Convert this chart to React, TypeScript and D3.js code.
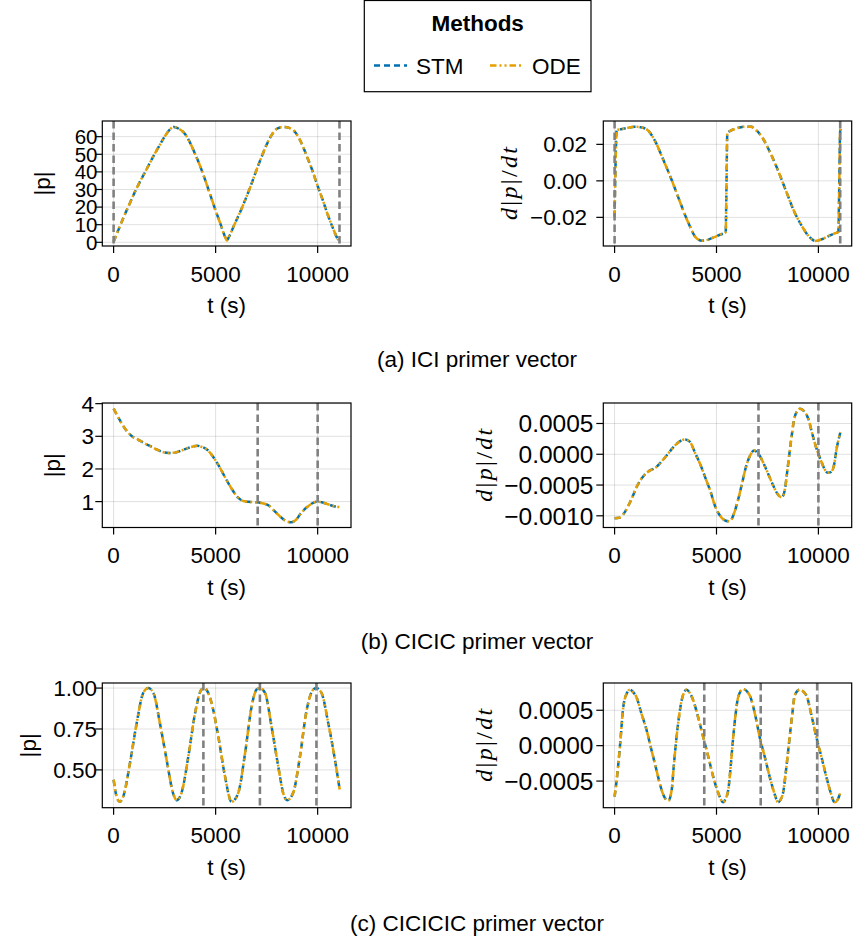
import React from 'react';
import * as d3 from 'd3';

const W = 856;
const H = 942;

const METHODS = ['STM', 'ODE'];
const METHOD_COLORS = ['#0072B2', '#E69F00'];
const METHOD_DASH = ['6 4', '6.5 3 2 3 2 3'];
const X_TICKS = [0, 5000, 10000];
const T_END = 11080;
const CAPTIONS = ['(a) ICI primer vector', '(b) CICIC primer vector', '(c) CICICIC primer vector'];

// ---- (a) ICI ----
const T_ICI_P = [0, 250, 500, 750, 1000, 1250, 1500, 1750, 2000, 2250, 2500, 2750, 2950, 3200, 3500, 3750, 4000, 4250, 4500, 4750, 5000, 5250, 5450, 5550, 5650, 5900, 6250, 6500, 6750, 7000, 7250, 7500, 7750, 8000, 8300, 8600, 8900, 9200, 9500, 9750, 10000, 10250, 10500, 10750, 11000, 11080];
const ICI_P = [0.3, 7.5, 14.5, 21, 27.5, 33.5, 39, 44.5, 50, 55, 60, 64, 65.5, 64.5, 61.5, 56.5, 50, 43, 35, 26.5, 18, 10, 3.5, 1, 3, 9.5, 18.5, 25.5, 33, 41, 48.5, 55.5, 61, 64.5, 65.5, 65, 62.5, 56.5, 48, 40.5, 32, 24, 15.5, 8, 1.5, 0.3];
const T_ICI_D = [0, 40, 100, 300, 600, 1000, 1300, 1600, 2000, 2400, 2800, 3200, 3600, 4000, 4300, 4600, 4900, 5200, 5450, 5490, 5530, 5700, 6000, 6400, 6700, 7000, 7300, 7600, 8000, 8400, 8800, 9200, 9500, 9850, 10150, 10450, 10750, 10980, 11020, 11060, 11080];
const ICI_D = [-0.0197, 0.005, 0.0278, 0.0283, 0.0289, 0.0297, 0.0293, 0.028, 0.0215, 0.0113, 0.0005, -0.0113, -0.0225, -0.0312, -0.0328, -0.0322, -0.0308, -0.0294, -0.0282, -0.002, 0.0262, 0.0275, 0.0288, 0.0297, 0.0296, 0.0272, 0.0228, 0.0163, 0.0062, -0.0052, -0.0165, -0.0250, -0.0300, -0.0329, -0.0321, -0.0305, -0.029, -0.0279, -0.005, 0.025, 0.0285];
const ICI_IMPULSES = [0, 11070];

// ---- (b) CICIC ----
const T_CICIC_P = [0, 300, 600, 900, 1200, 1500, 1800, 2100, 2400, 2700, 3000, 3300, 3600, 3900, 4100, 4300, 4600, 4900, 5200, 5500, 5800, 6100, 6400, 6700, 7000, 7300, 7600, 7900, 8200, 8500, 8700, 8900, 9200, 9500, 9800, 10000, 10200, 10500, 10800, 11080];
const CICIC_P = [3.85, 3.5, 3.2, 3.0, 2.9, 2.79, 2.7, 2.6, 2.52, 2.49, 2.5, 2.56, 2.63, 2.69, 2.71, 2.68, 2.58, 2.35, 2.05, 1.7, 1.38, 1.12, 1.01, 0.99, 0.98, 0.95, 0.88, 0.7, 0.52, 0.39, 0.37, 0.42, 0.66, 0.84, 0.97, 1.0, 0.98, 0.92, 0.86, 0.83];
const T_CICIC_D = [0, 250, 500, 800, 1100, 1400, 1700, 2000, 2300, 2600, 2900, 3200, 3450, 3700, 3950, 4200, 4450, 4700, 4950, 5200, 5450, 5650, 5850, 6050, 6250, 6450, 6650, 6850, 7050, 7300, 7550, 7800, 8050, 8200, 8350, 8500, 8650, 8800, 8950, 9100, 9300, 9500, 9700, 9900, 10100, 10300, 10450, 10600, 10750, 10900, 11080];
const CICIC_D = [-0.00104, -0.00103, -0.00094, -0.00075, -0.00052, -0.00036, -0.00027, -0.00022, -0.00012, 0.0, 0.00012, 0.00021, 0.00024, 0.0002, 0.00002, -0.00016, -0.00038, -0.0006, -0.00086, -0.00101, -0.00108, -0.00109, -0.00097, -0.00075, -0.00048, -0.0002, -0.00002, 0.00006, 0.00001, -0.00014, -0.00033, -0.00052, -0.00067, -0.0007, -0.00058, -0.0002, 0.0002, 0.00055, 0.0007, 0.00074, 0.0007, 0.00058, 0.00033, 0.0001, -0.00008, -0.00024, -0.0003, -0.00029, -0.0002, 0.0001, 0.00036];
const CICIC_IMPULSES = [7060, 10000];

// ---- (c) CICICIC ----
const T_CICICIC_P = [0, 150, 300, 480, 800, 1130, 1450, 1700, 1950, 2270, 2600, 2920, 3090, 3330, 3660, 3990, 4300, 4450, 4600, 4800, 5130, 5460, 5780, 6110, 6440, 6760, 7000, 7150, 7420, 7740, 8070, 8330, 8500, 8800, 9130, 9460, 9750, 9930, 10190, 10520, 10850, 11080];
const CICICIC_P = [0.44, 0.335, 0.305, 0.34, 0.54, 0.785, 0.97, 1.0, 0.97, 0.785, 0.56, 0.355, 0.315, 0.36, 0.58, 0.845, 0.99, 1.0, 0.98, 0.91, 0.705, 0.46, 0.305, 0.36, 0.6, 0.885, 0.99, 1.0, 0.97, 0.765, 0.52, 0.35, 0.315, 0.36, 0.58, 0.865, 0.985, 1.0, 0.97, 0.785, 0.56, 0.38];
const T_CICICIC_D = [0, 100, 260, 425, 600, 750, 900, 1080, 1300, 1570, 1800, 2060, 2250, 2400, 2630, 2800, 2900, 3040, 3180, 3290, 3530, 3700, 3860, 4100, 4350, 4600, 4840, 5100, 5330, 5460, 5580, 5700, 5820, 5940, 6060, 6300, 6630, 6900, 7120, 7370, 7610, 7850, 8020, 8150, 8270, 8430, 8590, 8720, 8840, 9080, 9410, 9650, 9900, 10150, 10390, 10600, 10800, 10950, 11080];
const CICICIC_D = [-0.00072, -0.00049, -0.00002, 0.00054, 0.00074, 0.00079, 0.00076, 0.00068, 0.00047, 0.00022, -0.00005, -0.00035, -0.00057, -0.0007, -0.00078, -0.00063, -0.0003, 0.00012, 0.00045, 0.00064, 0.00079, 0.00074, 0.00064, 0.0004, 0.00012, -0.00016, -0.00044, -0.00068, -0.0008, -0.00074, -0.00062, -0.00028, 0.00012, 0.00045, 0.00068, 0.0008, 0.00071, 0.00043, 0.00012, -0.00016, -0.00044, -0.00068, -0.0008, -0.00076, -0.00066, -0.0003, 0.00012, 0.00045, 0.00071, 0.00079, 0.00071, 0.00044, 0.00012, -0.00016, -0.00044, -0.00066, -0.0008, -0.00076, -0.00066];
const CICICIC_IMPULSES = [4400, 7170, 9940];

// y ticks
const Y_TICKS_ICI_P = [0, 10, 20, 30, 40, 50, 60];
const Y_TICKS_ICI_D = [-0.02, 0, 0.02];
const Y_TICKS_CICIC_P = [1, 2, 3, 4];
const Y_TICKS_CICIC_D = [-0.001, -0.0005, 0, 0.0005];
const Y_TICKS_CICICIC_P = [0.5, 0.75, 1.0];
const Y_TICKS_CICICIC_D = [-0.0005, 0, 0.0005];

const FONT = "'Liberation Sans', Arial, Helvetica, sans-serif";
const MATH_FONT = "'Liberation Serif', 'DejaVu Serif', serif";
const FS = 22.5;

const COL_X = [[102.3, 351], [603.3, 851.7]];
const ROW_Y = [[121, 246], [403, 527.5], [683, 807.7]];

type Panel = {
  row: number; col: number; t: number[]; v: number[]; yDomain: [number, number];
  yTicks: number[]; fmt: string; impulses: number[]; labelX: number; math: boolean;
  tickLabelEnd: number; tickFs: number;
};

const PANELS: Panel[] = [
  { row: 0, col: 0, t: T_ICI_P, v: ICI_P, yDomain: [-2.1, 68.9], yTicks: Y_TICKS_ICI_P, fmt: 'd', impulses: ICI_IMPULSES, labelX: 41.7, math: false, tickLabelEnd: 97.5, tickFs: 20.5 },
  { row: 0, col: 1, t: T_ICI_D, v: ICI_D, yDomain: [-0.0357, 0.0328], yTicks: Y_TICKS_ICI_D, fmt: '.2f', impulses: ICI_IMPULSES, labelX: 509, math: true, tickLabelEnd: 587, tickFs: 22.5 },
  { row: 1, col: 0, t: T_CICIC_P, v: CICIC_P, yDomain: [0.207, 4.02], yTicks: Y_TICKS_CICIC_P, fmt: 'd', impulses: CICIC_IMPULSES, labelX: 52.3, math: false, tickLabelEnd: 94, tickFs: 22.5 },
  { row: 1, col: 1, t: T_CICIC_D, v: CICIC_D, yDomain: [-0.00119, 0.000833], yTicks: Y_TICKS_CICIC_D, fmt: '.4f', impulses: CICIC_IMPULSES, labelX: 484, math: true, tickLabelEnd: 593.5, tickFs: 24.5 },
  { row: 2, col: 0, t: T_CICICIC_P, v: CICICIC_P, yDomain: [0.269, 1.031], yTicks: Y_TICKS_CICICIC_P, fmt: '.2f', impulses: CICICIC_IMPULSES, labelX: 28.3, math: false, tickLabelEnd: 97, tickFs: 22.5 },
  { row: 2, col: 1, t: T_CICICIC_D, v: CICICIC_D, yDomain: [-0.000876, 0.000885], yTicks: Y_TICKS_CICICIC_D, fmt: '.4f', impulses: CICICIC_IMPULSES, labelX: 484, math: true, tickLabelEnd: 593.5, tickFs: 24.5 },
];

const TICK = 7;

function PanelView({ p, idx }: { p: Panel; idx: number }) {
  const [x0, x1] = COL_X[p.col];
  const [y0, y1] = ROW_Y[p.row];
  const x = d3.scaleLinear().domain([-0.05 * T_END, 1.05 * T_END]).range([x0, x1]);
  const y = d3.scaleLinear().domain(p.yDomain).range([y1, y0]);
  const pts = p.t.map((t, i) => [t, p.v[i]] as [number, number]);
  const line = d3.line<[number, number]>().x(d => x(d[0])).y(d => y(d[1])).curve(d3.curveMonotoneX);
  const path = line(pts) || '';
  const f = d3.format(p.fmt);
  const clipId = `clip${idx}`;
  const cy = (y0 + y1) / 2;
  return (
    <g>
      <defs>
        <clipPath id={clipId}><rect x={x0} y={y0} width={x1 - x0} height={y1 - y0} /></clipPath>
      </defs>
      {X_TICKS.map(t => (
        <line key={'gx' + t} x1={x(t)} x2={x(t)} y1={y0} y2={y1} stroke="rgba(0,0,0,0.12)" strokeWidth={1} />
      ))}
      {p.yTicks.map(v => (
        <line key={'gy' + v} x1={x0} x2={x1} y1={y(v)} y2={y(v)} stroke="rgba(0,0,0,0.12)" strokeWidth={1} />
      ))}
      <g clipPath={`url(#${clipId})`}>
        {METHODS.map((m, i) => (
          <path key={m} d={path} fill="none" stroke={METHOD_COLORS[i]} strokeWidth={2.5} strokeDasharray={METHOD_DASH[i]} />
        ))}
        {p.impulses.map(t => (
          <line key={'imp' + t} x1={x(t)} x2={x(t)} y1={y0} y2={y1} stroke="#808080" strokeWidth={2.6} strokeDasharray="7.5 4" />
        ))}
      </g>
      <rect x={x0} y={y0} width={x1 - x0} height={y1 - y0} fill="none" stroke="black" strokeWidth={1.2} />
      {X_TICKS.map(t => (
        <g key={'xt' + t}>
          <line x1={x(t)} x2={x(t)} y1={y1} y2={y1 + TICK} stroke="black" strokeWidth={1.2} />
          <text x={x(t)} y={y1 + 35.7} textAnchor="middle" fontFamily={FONT} fontSize={FS}>{d3.format('d')(t)}</text>
        </g>
      ))}
      {p.yTicks.map(v => (
        <g key={'yt' + v}>
          <line x1={x0 - TICK} x2={x0} y1={y(v)} y2={y(v)} stroke="black" strokeWidth={1.2} />
          <text x={p.tickLabelEnd} y={y(v)} dy="0.36em" textAnchor="end" fontFamily={FONT} fontSize={p.tickFs}>{f(v)}</text>
        </g>
      ))}
      <text x={(x0 + x1) / 2} y={y1 + 67} textAnchor="middle" fontFamily={FONT} fontSize={FS}>t (s)</text>
      {p.math ? (
        <text transform={`translate(${p.labelX},${cy}) rotate(-90)`} textAnchor="middle" dy="0.32em" fontFamily={MATH_FONT} fontSize={24} textLength={73} lengthAdjust="spacing">
          <tspan fontStyle="italic">d</tspan><tspan>|</tspan><tspan fontStyle="italic">p</tspan><tspan>|</tspan><tspan>/</tspan><tspan fontStyle="italic">dt</tspan>
        </text>
      ) : (
        <text transform={`translate(${p.labelX},${cy}) rotate(-90)`} textAnchor="middle" dy="0.36em" fontFamily={FONT} fontSize={FS}>|p|</text>
      )}
    </g>
  );
}

export default function App() {
  const captionY = [367.3, 648.5, 930.5];
  const legendX = 364.3, legendW = 226.7;
  return (
    <svg width={W} height={H} style={{ position: 'absolute', left: 0, top: 0, background: 'white' }}>
      <rect x={0} y={0} width={W} height={H} fill="white" />
      <rect x={legendX} y={0.5} width={legendW} height={91.2} fill="white" stroke="black" strokeWidth={1.2} />
      <text x={legendX + legendW / 2} y={30.7} textAnchor="middle" fontFamily={FONT} fontSize={FS} fontWeight="bold">Methods</text>
      {METHODS.map((m, i) => {
        const lx = i === 0 ? 374 : 490;
        return (
          <g key={m}>
            <line x1={lx} x2={lx + 33} y1={65.5} y2={65.5} stroke={METHOD_COLORS[i]} strokeWidth={2.5} strokeDasharray={METHOD_DASH[i]} />
            <text x={lx + 42} y={74} fontFamily={FONT} fontSize={FS}>{m}</text>
          </g>
        );
      })}
      {PANELS.map((p, i) => <PanelView key={i} p={p} idx={i} />)}
      {CAPTIONS.map((c, i) => (
        <text key={c} x={477} y={captionY[i]} textAnchor="middle" fontFamily={FONT} fontSize={FS}>{c}</text>
      ))}
    </svg>
  );
}
